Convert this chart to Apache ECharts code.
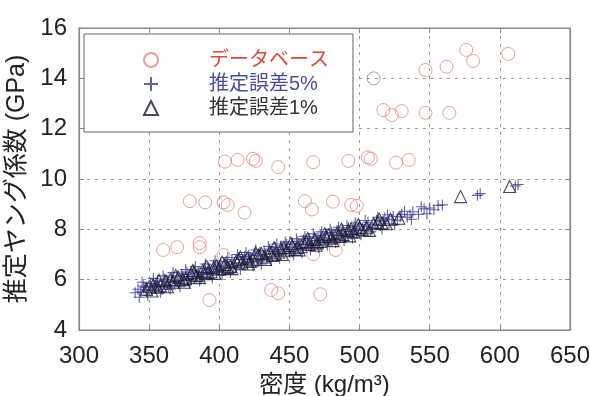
<!DOCTYPE html>
<html>
<head>
<meta charset="utf-8">
<script src="https://cdn.jsdelivr.net/npm/echarts@6/dist/echarts.min.js"></script>
<style>html,body{margin:0;padding:0;background:#fff}#c{width:590px;height:396px}</style>
</head>
<body>
<div id="c"></div>
<script>
// ---- data ----
const xTicks = [300, 350, 400, 450, 500, 550, 600, 650];
const yTicks = [4, 6, 8, 10, 12, 14, 16];

const seriesNames = ['データベース', '推定誤差5%', '推定誤差1%'];

// database (hollow circles)
const dbDensity = [576, 581, 606, 562, 547, 510, 517, 523, 530, 547, 564,
  467, 492, 506, 508, 526, 535, 404, 413, 424, 426, 442,
  379, 390, 403, 406, 418, 461, 466, 481, 494, 498,
  360, 370, 386, 386, 403, 393, 437, 442, 467, 483, 472];
const dbModulus = [15.13, 14.69, 14.97, 14.46, 14.33, 14.0, 12.74, 12.54, 12.70, 12.63, 12.63,
  10.67, 10.72, 10.86, 10.80, 10.65, 10.76, 10.69, 10.76, 10.80, 10.72, 10.47,
  9.12, 9.07, 9.07, 8.97, 8.66, 9.12, 8.79, 9.10, 8.97, 8.93,
  7.18, 7.29, 7.45, 7.29, 6.98, 5.19, 5.59, 5.46, 7.02, 7.18, 5.42];

// estimate, 5% error (plus markers)
const e5Density = [340, 342, 344, 346, 348, 351, 352, 354, 356, 357, 359, 361, 363, 364, 366, 368, 370, 371, 373, 375,
  377, 378, 380, 382, 384, 385, 387, 389, 391, 392, 394, 396, 398, 400, 401, 403, 405, 407, 409, 410,
  412, 414, 416, 418, 420, 421, 423, 425, 427, 429, 431, 432, 434, 436, 438, 440, 442, 444, 446, 448,
  450, 452, 454, 456, 458, 460, 462, 464, 466, 468, 470, 472, 474, 476, 478, 480, 482, 484, 486, 488,
  490, 492, 494, 496, 498, 500, 503, 506, 509, 512, 515, 518, 521, 524, 527, 530, 534, 538, 542, 546,
  550, 553, 556, 559, 584, 586, 611, 613,
  347, 355, 362, 369, 374, 381, 388, 393, 399, 404, 411, 417, 422, 428, 433, 439, 445, 451, 457, 463,
  469, 475, 481, 487, 493, 499, 505, 511, 517, 523, 529, 536,
  343, 345, 349, 353, 358, 360, 365, 367, 372, 376, 379, 383, 386, 390, 395, 397, 402, 406, 408, 413,
  415, 419, 424, 426, 430, 435, 437, 441, 443, 447, 453, 455, 459, 461, 465, 467, 471, 473, 477, 479,
  483, 485, 489, 491, 495, 497, 501, 504, 508, 513, 516, 520, 525, 532, 537, 544, 548];
const e5Modulus = [5.48, 5.62, 5.52, 5.75, 5.58, 5.85, 5.60, 5.68, 5.95, 5.74, 5.62, 6.02, 5.80, 5.71, 6.10, 5.88, 6.15, 5.85, 6.22, 5.96,
  6.30, 6.00, 6.05, 6.38, 6.12, 6.30, 6.08, 6.45, 6.22, 6.50, 6.25, 6.58, 6.30, 6.40, 6.66, 6.36, 6.72, 6.45, 6.80, 6.52,
  6.48, 6.88, 6.60, 6.92, 6.66, 6.98, 6.70, 7.05, 6.74, 7.10, 6.82, 7.15, 6.86, 7.22, 6.92, 7.28, 6.98, 7.34, 7.05, 7.40,
  7.12, 7.45, 7.18, 7.52, 7.22, 7.58, 7.30, 7.64, 7.35, 7.70, 7.42, 7.76, 7.48, 7.82, 7.55, 7.88, 7.60, 7.95, 7.66, 8.00,
  7.72, 8.06, 7.80, 8.12, 7.85, 8.18, 7.96, 8.28, 8.05, 8.36, 8.15, 8.45, 8.22, 8.52, 8.36, 8.60, 8.48, 8.70, 8.60, 8.82,
  8.85, 8.78, 8.95, 8.97, 9.35, 9.42, 9.72, 9.78,
  5.70, 5.80, 5.92, 5.96, 6.12, 6.22, 6.20, 6.40, 6.52, 6.58, 6.62, 6.80, 6.85, 6.95, 7.00, 7.12, 7.20, 7.28, 7.38, 7.46,
  7.55, 7.66, 7.74, 7.82, 7.92, 8.02, 8.10, 8.20, 8.32, 8.38, 8.50, 8.58,
  5.30, 5.90, 5.38, 6.05, 5.50, 6.15, 5.62, 6.28, 5.72, 6.40, 5.85, 6.52, 5.95, 6.62, 6.08, 6.75, 6.20, 6.88, 6.28, 7.00,
  6.40, 7.08, 6.55, 7.18, 6.62, 7.32, 6.75, 7.42, 6.85, 7.50, 6.98, 7.62, 7.08, 7.72, 7.18, 7.82, 7.28, 7.90, 7.38, 8.00,
  7.48, 8.08, 7.56, 8.15, 7.66, 8.25, 7.78, 8.35, 7.90, 8.48, 8.02, 8.58, 8.18, 8.72, 8.40, 8.90, 8.62];

// estimate, 1% error (triangles)
const e1Density = [348, 353, 358, 362, 367, 371, 376, 380, 384, 388, 392, 396, 400, 404, 408, 412, 416, 420, 424, 428,
  432, 436, 440, 444, 448, 452, 456, 460, 464, 468, 472, 476, 480, 484, 488, 492, 496, 500, 505, 510,
  516, 522, 528, 572, 607,
  350, 356, 365, 374, 382, 390, 398, 406, 414, 422, 430, 438, 446, 454, 462, 470, 478, 486, 494, 502, 513, 519,
  352, 357, 363, 369, 375, 381, 386, 391, 397, 402, 409, 415, 421, 426, 433, 439, 445, 451, 457, 463,
  469, 475, 481, 487, 493, 499, 507, 514];
const e1Modulus = [5.62, 5.80, 5.76, 5.95, 5.90, 6.10, 6.04, 6.22, 6.16, 6.35, 6.28, 6.48, 6.42, 6.60, 6.54, 6.74, 6.66, 6.85, 6.78, 6.98,
  6.90, 7.10, 7.02, 7.22, 7.15, 7.35, 7.28, 7.47, 7.40, 7.60, 7.52, 7.72, 7.66, 7.85, 7.78, 7.96, 7.90, 8.08, 8.06, 8.22,
  8.24, 8.40, 8.44, 9.30, 9.70,
  5.72, 5.70, 6.00, 6.00, 6.28, 6.24, 6.55, 6.48, 6.80, 6.72, 7.04, 6.96, 7.28, 7.20, 7.52, 7.46, 7.78, 7.72, 8.02, 7.98, 8.28, 8.22,
  5.55, 5.98, 5.72, 6.17, 5.90, 6.36, 6.08, 6.52, 6.25, 6.70, 6.44, 6.90, 6.62, 7.06, 6.80, 7.27, 7.00, 7.45, 7.18, 7.64,
  7.37, 7.82, 7.55, 8.00, 7.74, 8.18, 7.96, 8.40];

// ---- build chart ----
const FONT = "'Liberation Sans', 'Noto Sans CJK JP', sans-serif";
const zip = (xs, ys) => xs.map((x, i) => [x, ys[i]]);
const dbData = zip(dbDensity, dbModulus).map((p, i) =>
  i === 5 ? { value: p, itemStyle: { borderColor: '#8a8a8a' } } : p);

const plusPath = 'path://M0,5L10,5M5,0L5,10';
const gridLine = { show: true, lineStyle: { color: '#9a9a9a', type: [3, 5], width: 1 } };
const axisLineStyle = { show: true, lineStyle: { color: '#8a8a8a', width: 1.2 } };
const tick = { show: true, inside: true, length: 5, lineStyle: { color: '#8a8a8a' } };

const chart = echarts.init(document.getElementById('c'), null, { renderer: 'canvas' });
chart.setOption({
  animation: false,
  backgroundColor: '#fff',
  textStyle: { fontFamily: FONT },
  grid: { left: 79, right: 20, top: 28, bottom: 66, containLabel: false, outerBoundsMode: 'none',
    show: true, borderColor: '#8a8a8a', borderWidth: 1.2, backgroundColor: 'transparent' },
  xAxis: [{
    type: 'value', min: xTicks[0], max: xTicks[xTicks.length - 1], interval: 50,
    name: '密度 (kg/m³)', nameLocation: 'middle', nameGap: 40,
    nameTextStyle: { fontSize: 24, color: '#222', fontFamily: FONT },
    axisLine: axisLineStyle, axisTick: tick, splitLine: gridLine,
    axisLabel: { fontSize: 24, color: '#222', margin: 14, fontFamily: FONT }
  }, {
    type: 'value', position: 'top', min: xTicks[0], max: xTicks[xTicks.length - 1], interval: 50,
    axisLine: axisLineStyle, axisTick: tick, splitLine: { show: false }, axisLabel: { show: false }
  }],
  yAxis: [{
    type: 'value', min: yTicks[0], max: yTicks[yTicks.length - 1], interval: 2,
    name: '推定ヤング係数 (GPa)', nameLocation: 'middle', nameGap: 39, nameRotate: 90,
    nameTextStyle: { fontSize: 25, color: '#222', fontFamily: FONT },
    axisLine: axisLineStyle, axisTick: tick, splitLine: gridLine,
    axisLabel: { fontSize: 24, color: '#222', margin: 12, fontFamily: FONT }
  }, {
    type: 'value', position: 'right', min: yTicks[0], max: yTicks[yTicks.length - 1], interval: 2,
    axisLine: axisLineStyle, axisTick: tick, splitLine: { show: false }, axisLabel: { show: false }
  }],
  legend: {
    left: 84, top: 34, orient: 'vertical',
    padding: [16, 24, 14, 59], itemGap: 4, itemWidth: 14, itemHeight: 14,
    borderColor: '#666', borderWidth: 1, backgroundColor: '#fff',
    textStyle: { fontSize: 20, lineHeight: 20, fontFamily: FONT, padding: [0, 0, 0, 46] },
    data: [
      { name: seriesNames[0], textStyle: { color: '#e0483a' } },
      { name: seriesNames[1], textStyle: { color: '#4a4aa8' } },
      { name: seriesNames[2], textStyle: { color: '#333' } }
    ]
  },
  series: [{
    name: seriesNames[0], type: 'scatter', data: dbData, symbol: 'circle', symbolSize: 13,
    itemStyle: { color: 'rgba(0,0,0,0)', borderColor: '#e58585', borderWidth: 1 }, z: 2
  }, {
    name: seriesNames[1], type: 'scatter', data: zip(e5Density, e5Modulus), symbol: plusPath, symbolSize: 11,
    itemStyle: { color: 'rgba(0,0,0,0)', borderColor: '#3a3a92', borderWidth: 1.1 }, z: 3
  }, {
    name: seriesNames[2], type: 'scatter', data: zip(e1Density, e1Modulus), symbol: 'triangle', symbolSize: 12,
    itemStyle: { color: 'rgba(0,0,0,0)', borderColor: '#1a1a30', borderWidth: 1.1 }, z: 4
  }]
});
</script>
</body>
</html>
